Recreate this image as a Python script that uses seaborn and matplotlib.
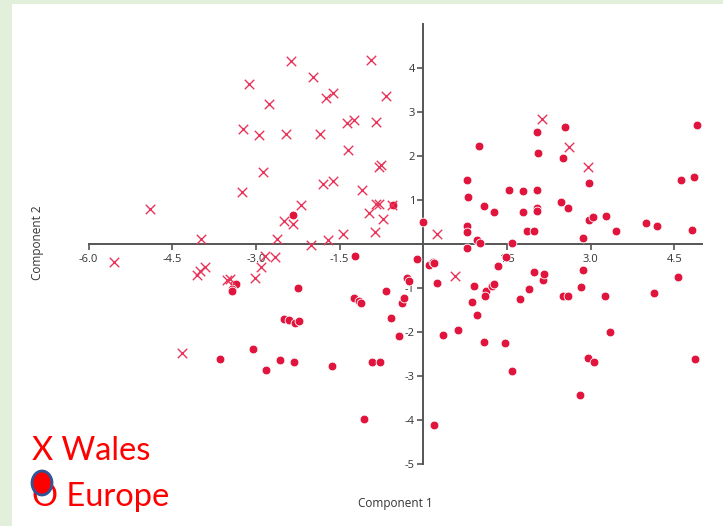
import seaborn as sns
import matplotlib.pyplot as plt
import pandas as pd
from matplotlib.patches import Ellipse, Rectangle

# Wales points (crosses)
wales_x = [-2.37, -0.94, -3.13, -1.98, -2.77, -1.74, -1.61, -0.66, -3.24, -2.94,
           -2.46, -1.86, -1.37, -1.25, -0.85, -1.35, -2.87, -0.79, -0.75, -3.25,
           -1.79, -1.62, -1.09, -2.20, -0.84, -0.79, -0.97, -0.72, -2.49, -2.33,
           -0.87, -1.44, -2.63, -1.70, -3.99, -2.02, -0.56, 0.25, 2.13, 2.61,
           2.96, 0.57, -5.54, -4.06, -4.00, -3.91, -3.52, -3.46, -3.02, -2.90,
           -2.84, -2.66, -4.32, -4.89]
wales_y = [4.17, 4.19, 3.64, 3.80, 3.19, 3.32, 3.45, 3.38, 2.62, 2.49,
           2.50, 2.51, 2.76, 2.82, 2.79, 2.14, 1.65, 1.76, 1.79, 1.18,
           1.36, 1.44, 1.23, 0.89, 0.90, 0.90, 0.71, 0.58, 0.53, 0.46,
           0.27, 0.23, 0.11, 0.09, 0.11, -0.02, 0.89, 0.22, 2.84, 2.22,
           1.75, -0.72, -0.42, -0.71, -0.62, -0.52, -0.82, -0.80, -0.77, -0.52,
           -0.27, -0.30, -2.48, 0.80]

# Europe points (dots)
europe_x = [-0.01, 0.78, 0.80, 0.79, 0.78, 0.78, 1.00, 1.09, 1.26, 0.96,
            1.02, 1.53, 1.78, 1.79, 1.85, 1.99, 1.59, 1.49, 2.03, 2.06,
            2.03, 2.03, 2.03, 2.54, 2.50, 2.47, 2.59, 2.97, 2.97, 3.04,
            2.87, 3.28, 3.45, 3.99, 4.19, 4.61, 4.86, 4.90, 4.82,
            -0.12, 0.11, 0.17, 0.19, -0.54, -2.33,
            0.25, -0.29, -0.26, -0.67, -0.39, -0.35, -0.58, -0.43, -0.92, -0.77,
            -1.07, 0.19, 0.35, 0.63, 0.90, 0.87, 1.12, 1.11, 0.96, 1.24,
            1.27, 1.08, 1.47, 1.59, 1.34, 1.73, 1.90, 1.99, 2.14, 2.17,
            2.50, 2.59, 2.82, 2.86, 2.80, 2.95, 3.06, 3.26, 3.35, 4.13,
            4.56, 4.87,
            -1.22, -2.25, -1.25, -1.16, -1.12, -2.50, -2.40, -2.30, -2.23, -1.64,
            -3.39, -3.36, -3.42, -3.43, -3.06, -3.64, -2.82, -2.56, -2.31]
europe_y = [0.49, 1.46, 1.08, 0.41, 0.27, -0.10, 2.23, 0.86, 0.72, 0.08,
            0.03, 1.23, 1.21, 0.72, 0.29, 0.29, 0.03, -0.29, 2.56, 2.07,
            1.23, 0.81, 0.76, 2.66, 1.95, 0.96, 0.81, 1.40, 0.55, 0.62,
            0.13, 0.64, 0.30, 0.47, 0.40, 1.46, 1.53, 2.70, 0.32,
            -0.35, -0.48, -0.40, -0.44, 0.89, 0.66,
            -0.89, -0.77, -0.85, -1.06, -1.34, -1.23, -1.69, -2.09, -2.69, -2.69,
            -3.98, -4.12, -2.07, -1.95, -0.95, -1.33, -1.08, -1.19, -1.61, -0.95,
            -0.91, -2.23, -2.26, -2.90, -0.49, -1.25, -1.03, -0.64, -0.81, -0.68,
            -1.18, -1.18, -0.99, -0.59, -3.45, -2.60, -2.69, -1.18, -2.00, -1.12,
            -0.75, -2.61,
            -0.27, -1.01, -1.24, -1.29, -1.34, -1.70, -1.73, -1.81, -1.76, -2.77,
            -0.90, -0.91, -1.03, -1.07, -2.40, -2.63, -2.87, -2.64, -2.69]

x_ticks = [-6.0, -4.5, -3.0, -1.5, 1.5, 3.0, 4.5]
y_ticks = [-5, -4, -3, -2, -1, 1, 2, 3, 4]

wales = pd.DataFrame({"c1": wales_x, "c2": wales_y})
europe = pd.DataFrame({"c1": europe_x, "c2": europe_y})

sns.set_style("white")
plt.rcParams["font.family"] = ["Open Sans", "DejaVu Sans"]

fig = plt.figure(figsize=(7.23, 5.26), dpi=100, facecolor="#E2EFDA")
# white panel inside the green frame
fig.patches.append(Rectangle((12 / 723, 0), 1, 1 - 4 / 526, transform=fig.transFigure,
                             facecolor="white", edgecolor="none", zorder=-10))

ax = fig.add_axes([88.5 / 723, 62.5 / 526, 613.8 / 723, 439 / 526])
ax.set_facecolor("none")

red = "#E0143C"
sns.scatterplot(data=europe, x="c1", y="c2", ax=ax, color=red, marker="o", s=40,
                edgecolor="white", linewidth=0.6, clip_on=False, zorder=3)
sns.scatterplot(data=wales, x="c1", y="c2", ax=ax, color="#E8345A", marker="x", s=46,
                linewidth=1.0, clip_on=False, zorder=4)

ax.set_xlim(-6.0, 5.0)
ax.set_ylim(-5, 5)
for side in ["top", "right"]:
    ax.spines[side].set_visible(False)
for side in ["left", "bottom"]:
    ax.spines[side].set_position("zero")
    ax.spines[side].set_color("#555555")
    ax.spines[side].set_linewidth(1.4)

ax.set_xticks(x_ticks)
ax.set_xticklabels([f"{v:.1f}" for v in x_ticks])
ax.set_yticks(y_ticks)
ax.set_yticklabels([str(v) for v in y_ticks])
ax.tick_params(axis="both", direction="out", length=4, width=1.2, color="#555555",
               labelsize=8, labelcolor="#333333", pad=2)
ax.tick_params(axis="x", bottom=True, pad=3)
ax.tick_params(axis="y", left=True)
ax.set_xlabel("")
ax.set_ylabel("")

fig.text(395 / 723, 1 - 503 / 526, "Component 1", ha="center", va="center",
         fontsize=8.5, color="#333333")
fig.text(38 / 723, 1 - 243 / 526, "Component 2", ha="center", va="center",
         rotation=90, fontsize=8.5, color="#333333")

# hand-made legend
fig.text(32 / 723, 1 - 460 / 526, "X Wales", ha="left", va="baseline",
         fontsize=23.5, color="#FF0000", family=["Lato", "DejaVu Sans"])
fig.text(32 / 723, 1 - 506 / 526, "O Europe", ha="left", va="baseline",
         fontsize=23.5, color="#FF0000", family=["Lato", "DejaVu Sans"])
fig.patches.append(Ellipse((42 / 723, 1 - 483 / 526), 20 / 723, 24 / 526,
                           transform=fig.transFigure, facecolor="#FF0000",
                           edgecolor="#2F5597", linewidth=2, zorder=5))

fig.savefig("out.png", dpi=100, facecolor=fig.get_facecolor())
